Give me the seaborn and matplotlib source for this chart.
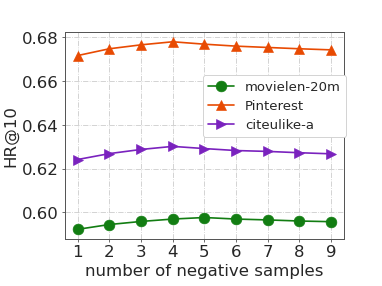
import pandas as pd
import numpy as np
import matplotlib
matplotlib.use("Agg")
import matplotlib.pyplot as plt
import seaborn as sns

# values
neg_samples = [1, 2, 3, 4, 5, 6, 7, 8, 9]
movielens = [0.5923, 0.5945, 0.5959, 0.5970, 0.5977, 0.5970, 0.5966, 0.5961, 0.5958]
pinterest = [0.6717, 0.6748, 0.6766, 0.6780, 0.6769, 0.6760, 0.6754, 0.6748, 0.6743]
citeulike = [0.6242, 0.6269, 0.6288, 0.6302, 0.6292, 0.6283, 0.6279, 0.6273, 0.6268]

series_names = ["movielen-20m", "Pinterest", "citeulike-a"]
colors = ["#127d12", "#e84a02", "#7a22be"]
markers = ["o", "^", ">"]

f = pd.DataFrame({
    "x": neg_samples * 3,
    "HR": movielens + pinterest + citeulike,
    "dataset": [n for n in series_names for _ in neg_samples],
})

sns.set_style("white")
plt.rcParams["font.family"] = ["DejaVu Sans"]
fig, ax = plt.subplots(figsize=(6.4, 4.8), dpi=59.7)

for name, c, m in zip(series_names, colors, markers):
    d = f[f["dataset"] == name]
    sns.lineplot(data=d, x="x", y="HR", color=c, marker=m, markersize=13,
                 linewidth=2, markeredgecolor=c, label=name, ax=ax)

ax.grid(True, linestyle="-.", color="#cccccc", linewidth=1)
ax.set_xticks(neg_samples)
ax.set_yticks([0.60, 0.62, 0.64, 0.66, 0.68])
ax.yaxis.set_major_formatter(matplotlib.ticker.FormatStrFormatter("%.2f"))
ax.tick_params(axis="both", labelsize=20, length=4, direction="out", left=True, bottom=True)
ax.set_xlabel("number of negative samples", fontsize=20)
ax.set_ylabel("HR@10", fontsize=20)
for s in ax.spines.values():
    s.set_color("#555555")
    s.set_linewidth(1.2)

ax.legend(loc="upper right", bbox_to_anchor=(1.032, 0.824), fontsize=16,
          framealpha=1, labelspacing=0.45)

plt.subplots_adjust(left=0.17, right=0.9, top=0.885, bottom=0.165)
plt.savefig("out.png", dpi=59.7)
